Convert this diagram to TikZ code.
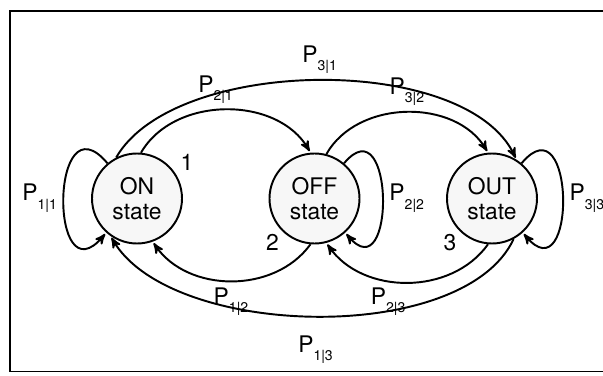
\documentclass[tikz,border=0pt]{standalone}
\usepackage{fontspec}
\setmainfont{TeX Gyre Heros}
\usetikzlibrary{arrows}

\newcommand{\pij}[2]{P\raisebox{-0.7ex}{\footnotesize#1|#2}}

\begin{document}
\begin{tikzpicture}[->,>=stealth',shorten >=1pt,auto,node distance=3.55cm,
                    line width=1.1pt,main node/.style={circle,draw,fill=gray!6,minimum size=1.8cm,inner sep=0pt,align=center,font=\fontsize{13}{14}\selectfont},
                    every label/.style={font=\fontsize{13}{14}\selectfont}]
\useasboundingbox (0,0) rectangle (12.06,7.5);

% frame, open on the right
\draw[-,shorten >=0pt] (12.06,7.28) -- (0.2,7.28) -- (0.2,0.07) -- (12.06,0.07);

  \node[main node,label={[label distance=-2pt]30:1}] (1) at (2.74,3.53) {ON\\state};
  \node[main node,label={[label distance=-3pt]-135:2}] (2) [right of=1] {OFF\\state};
  \node[main node,label={[label distance=-3pt]-135:3}] (3) [right of=2] {OUT\\state};

  \path[every node/.style={font=\fontsize{13}{14}\selectfont}]
    (1.85)  edge [bend left=60] node[above,pos=.45] {\pij21} (2.95)
    (1.117) edge [out=60,in=115,looseness=.75] node[above] {\pij31} (3.58)
    (2.75)  edge [bend left=60] node[above] {\pij32} (3.95)
    (1.130) edge [out=130,in=230,looseness=3.3] node[left] {\pij11} (1.228)
    (2.50)  edge [out=50,in=-50,looseness=2.9] node[right] {\pij22} (2.-48)
    (3.50)  edge [out=50,in=-50,looseness=3.1] node[right] {\pij33} (3.-48)
    (2.-95) edge [bend left=55] node[below] {\pij12} (1.-70)
    (3.-95) edge [bend left=55] node[below,pos=.6] {\pij23} (2.-75)
    (3.-62) edge [out=-115,in=-60,looseness=.75] node[below=7pt] {\pij13} (1.-125);
\end{tikzpicture}
\end{document}
